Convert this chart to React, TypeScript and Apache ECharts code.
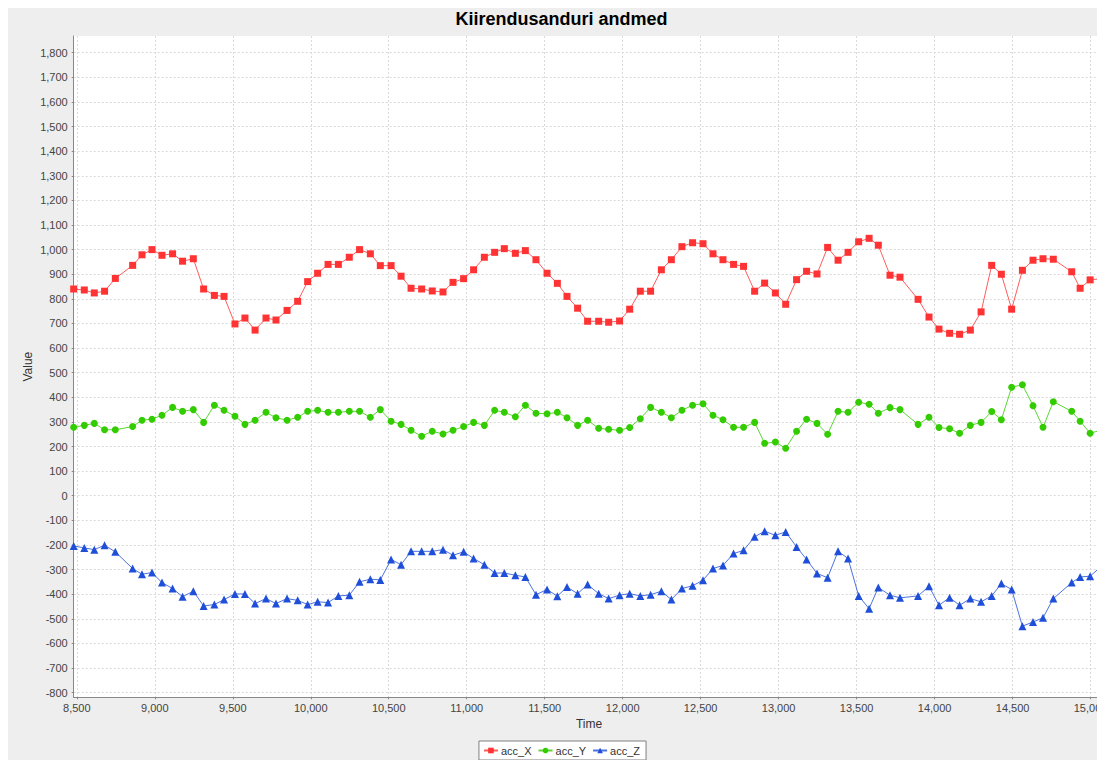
import React, { useEffect, useRef } from "react";
import * as echarts from "echarts";

const TITLE = "Kiirendusanduri andmed";
const SERIES_NAMES = ["acc_X", "acc_Y", "acc_Z"];

const time = [
  8480, 8548, 8612, 8678, 8747, 8858, 8918, 8982, 9046, 9114,
  9178, 9247, 9313, 9382, 9444, 9514, 9578, 9643, 9713, 9777,
  9848, 9916, 9980, 10044, 10111, 10177, 10247, 10313, 10382, 10446,
  10515, 10579, 10643, 10711, 10779, 10848, 10912, 10980, 11044, 11113,
  11179, 11241, 11312, 11376, 11444, 11515, 11581, 11643, 11711, 11775,
  11846, 11910, 11980, 12045, 12113, 12179, 12248, 12312, 12380, 12448,
  12515, 12579, 12643, 12711, 12775, 12846, 12910, 12979, 13045, 13115,
  13179, 13246, 13314, 13381, 13445, 13513, 13580, 13639, 13714, 13778,
  13894, 13964, 14028, 14096, 14160, 14229, 14298, 14366, 14428, 14494,
  14563, 14631, 14695, 14761, 14879, 14933, 14997, 15065,
];

const accX = [
  840, 836, 824, 831, 883, 936, 979, 1000, 977, 983,
  953, 963, 840, 814, 810, 698, 722, 673, 722, 714,
  753, 790, 870, 904, 940, 940, 969, 1000, 983, 935,
  935, 892, 843, 840, 832, 828, 867, 882, 918, 969,
  989, 1004, 985, 996, 959, 904, 863, 810, 762, 709,
  709, 705, 710, 758, 831, 831, 918, 959, 1012, 1028,
  1024, 983, 959, 940, 932, 831, 864, 824, 778, 878,
  912, 901, 1009, 957, 989, 1032, 1046, 1018, 896, 888,
  798, 726, 677, 660, 656, 673, 747, 936, 900, 758,
  916, 957, 963, 961, 910, 843, 877, 882,
];

const accY = [
  278, 286, 294, 268, 268, 281, 307, 311, 327, 359,
  343, 350, 298, 368, 347, 323, 290, 307, 339, 317,
  307, 319, 343, 347, 339, 339, 343, 343, 319, 350,
  303, 290, 266, 242, 262, 251, 266, 281, 298, 286,
  347, 339, 321, 368, 335, 333, 339, 317, 286, 307,
  274, 270, 266, 277, 313, 359, 339, 317, 347, 368,
  374, 327, 309, 278, 278, 298, 213, 218, 193, 262,
  311, 294, 250, 343, 339, 380, 372, 335, 358, 350,
  290, 319, 277, 272, 254, 286, 298, 342, 309, 441,
  451, 366, 278, 382, 343, 303, 254, 266,
];

const accZ = [
  -204, -212, -219, -201, -228, -296, -319, -312, -353, -377,
  -410, -388, -448, -442, -422, -399, -399, -438, -418, -438,
  -418, -425, -442, -431, -434, -407, -404, -350, -339, -342,
  -259, -280, -226, -226, -226, -219, -242, -228, -255, -280,
  -314, -314, -323, -330, -402, -381, -408, -371, -398, -361,
  -398, -418, -404, -398, -407, -402, -388, -422, -377, -366,
  -343, -296, -283, -235, -222, -167, -144, -161, -147, -208,
  -259, -316, -333, -226, -255, -407, -459, -373, -404, -415,
  -407, -368, -445, -414, -445, -418, -431, -407, -357, -381,
  -530, -513, -496, -418, -353, -330, -327, -289,
];

const xTicks = [
  8500, 9000, 9500, 10000, 10500, 11000, 11500, 12000, 12500, 13000,
  13500, 14000, 14500, 15000,
];
const yTicks = [
  -800, -700, -600, -500, -400, -300, -200, -100, 0, 100, 200, 300, 400,
  500, 600, 700, 800, 900, 1000, 1100, 1200, 1300, 1400, 1500, 1600, 1700,
  1800,
];

const X_RANGE = [8480, 15088];
const Y_RANGE = [-819, 1868];

const COLORS = ["#ff3333", "#33cc00", "#1f4fd8"];
const SYMBOLS = ["rect", "circle", "triangle"];
const FONT = "'Liberation Sans', Arial, sans-serif";

export default function App() {
  const ref = useRef<HTMLDivElement>(null);

  useEffect(() => {
    if (!ref.current) return;
    const chart = echarts.init(ref.current, undefined, { renderer: "svg" });
    const fmt = (v: number) => v.toLocaleString("en-US");
    const seriesData = [accX, accY, accZ];
    const gridLeft = 65.7;
    const gridTop = 28;
    const gridRight = 10.7;
    const gridBottom = 70.7;
    const W = 1107;
    const H = 760;
    const plotCx = (gridLeft + (W - gridRight)) / 2;
    const plotCy = (gridTop + (H - gridBottom)) / 2;

    chart.setOption({
      animation: false,
      backgroundColor: "#eeeeee",
      textStyle: { fontFamily: FONT },
      title: {
        text: TITLE,
        left: "center",
        top: 2,
        padding: 0,
        textStyle: {
          fontFamily: FONT,
          fontSize: 18,
          fontWeight: "bold",
          color: "#000",
        },
      },
      legend: {
        data: SERIES_NAMES,
        left: "center",
        top: 733,
        backgroundColor: "#fff",
        borderColor: "#808080",
        borderWidth: 1,
        borderRadius: 0,
        padding: [4, 6, 4, 4],
        itemGap: 6,
        itemWidth: 14,
        itemHeight: 7,
        textStyle: {
          fontFamily: FONT,
          fontSize: 11,
          color: "#333",
          padding: [0, 0, 0, -2],
        },
      },
      grid: {
        left: gridLeft,
        top: gridTop,
        right: gridRight,
        bottom: gridBottom,
        containLabel: false,
        show: true,
        backgroundColor: "#ffffff",
        borderWidth: 0,
      },
      graphic: [
        {
          type: "text",
          rotation: Math.PI / 2,
          x: 20,
          y: plotCy,
          style: {
            text: "Value",
            fill: "#333",
            font: `12px ${FONT}`,
            align: "center",
            verticalAlign: "middle",
          },
        },
        {
          type: "text",
          x: plotCx,
          y: 716,
          style: {
            text: "Time",
            fill: "#333",
            font: `12px ${FONT}`,
            align: "center",
            verticalAlign: "middle",
          },
        },
      ],
      xAxis: {
        type: "value",
        min: X_RANGE[0],
        max: X_RANGE[1],
        axisLine: {
          show: true,
          onZero: false,
          lineStyle: { color: "#888", width: 1 },
        },
        axisTick: {
          show: true,
          length: 2,
          customValues: xTicks,
          lineStyle: { color: "#888" },
        },
        axisLabel: {
          customValues: xTicks,
          formatter: fmt,
          fontSize: 11,
          color: "#444",
          margin: 5,
          fontFamily: FONT,
        },
        splitLine: {
          show: true,
          lineStyle: { color: "#dadada", type: [2, 2], width: 1 },
        },
      },
      yAxis: {
        type: "value",
        min: Y_RANGE[0],
        max: Y_RANGE[1],
        axisLine: {
          show: true,
          onZero: false,
          lineStyle: { color: "#888", width: 1 },
        },
        axisTick: {
          show: true,
          length: 2,
          customValues: yTicks,
          lineStyle: { color: "#888" },
        },
        axisLabel: {
          customValues: yTicks,
          formatter: fmt,
          fontSize: 11,
          color: "#444",
          margin: 6,
          fontFamily: FONT,
        },
        splitLine: {
          show: true,
          lineStyle: { color: "#dadada", type: [2, 2], width: 1 },
        },
      },
      series: SERIES_NAMES.map((name, i) => ({
        name,
        type: "line",
        data: time.map((t, k) => [t, seriesData[i][k]]),
        symbol: SYMBOLS[i],
        symbolSize: i === 2 ? 8 : 7,
        showSymbol: true,
        showAllSymbol: true,
        clip: true,
        color: COLORS[i],
        itemStyle: { color: COLORS[i] },
        lineStyle: { color: COLORS[i], width: 1, opacity: 0.8 },
        z: 3 - i,
      })),
    });
    return () => chart.dispose();
  }, []);

  return (
    <div style={{ width: 1097, height: 752, overflow: "hidden" }}>
      <div ref={ref} style={{ width: 1107, height: 760 }} />
    </div>
  );
}
